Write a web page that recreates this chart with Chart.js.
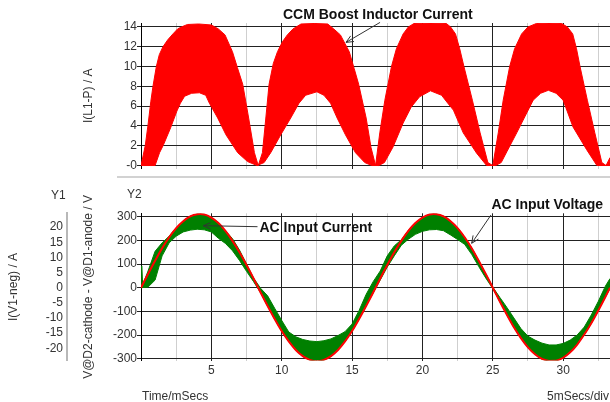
<!DOCTYPE html>
<html>
<head>
<meta charset="utf-8">
<script src="https://cdn.jsdelivr.net/npm/chart.js@4"></script>
<style>
  html, body { margin: 0; padding: 0; background: #fff; }
  #wrap { position: relative; width: 610px; height: 402px; overflow: hidden;
          font-family: "Liberation Sans", Arial, sans-serif; color: #333; }
  #topChart { position: absolute; left: 0; top: 0; }
  #bottomChart { position: absolute; left: 0; top: 178px; }
  #sep { position: absolute; left: 117px; top: 176px; width: 493px; height: 2px; background: #d2d2d2; }
  .lbl { position: absolute; font-size: 12px; line-height: 14px; white-space: nowrap; }
</style>
</head>
<body>
<div id="wrap">
  <canvas id="topChart" width="610" height="178"></canvas>
  <div id="sep"></div>
  <canvas id="bottomChart" width="610" height="224"></canvas>
  <div class="lbl" style="left:51px; top:188px;">Y1</div>
  <div class="lbl" style="left:127px; top:187px;">Y2</div>
  <div class="lbl" style="left:142px; top:389px;">Time/mSecs</div>
  <div class="lbl" style="right:1px; top:389px;">5mSecs/div</div>
</div>
<script>
// ---- time axis (ms) ----
const timeTicks = [0, 2.5, 5, 7.5, 10, 12.5, 15, 17.5, 20, 22.5, 25, 27.5, 30, 32.5];
const timeTickLabels = ['', '', '5', '', '10', '', '15', '', '20', '', '25', '', '30', ''];

// ---- boost inductor current, I(L1-P) in A: ripple envelope [ms, A] ----
const inductorCurrentMax = [
  [0,0],[0.3,2],[0.49,4],[0.7,6.5],[0.85,8],[1.09,10],[1.3,11.2],[1.56,12],[1.9,12.7],[2.27,13.3],[2.6,13.8],[2.87,14.0],[3.3,14.25],[4.1,14.3],[5.0,14.2],[5.5,13.8],[5.97,13.2],[6.5,11.5],[6.85,9.9],[7.23,8.2],[7.65,4.8],[8.06,1.3],[8.33,0],
  [8.63,1.3],[8.85,4.5],[9.1,8.2],[9.4,10.3],[9.7,11.5],[10.05,12.5],[10.4,13.2],[10.8,13.8],[11.37,14.3],[12.3,14.35],[13.27,14.3],[13.7,13.8],[14.17,13.2],[14.8,11.5],[15.15,9.8],[15.47,8.2],[16.0,4.8],[16.35,1.8],[16.67,0],
  [16.97,3.3],[17.33,6.6],[17.8,10],[18.15,11.8],[18.63,13.3],[19.0,14.0],[19.4,14.35],[20.6,14.4],[21.7,14.35],[22.0,14.0],[22.35,13.3],[22.65,11.8],[22.95,10],[23.55,6.6],[24.1,3.3],[24.65,0.3],[25.0,0],
  [25.39,3.3],[25.74,6.6],[26.2,10],[26.55,11.8],[27.05,13.3],[27.5,14.0],[28.1,14.35],[29.0,14.4],[29.9,14.35],[30.3,14.0],[30.68,13.3],[30.95,11.8],[31.2,10],[31.72,6.6],[32.25,3.3],[32.75,0.3],[33.05,0],[33.33,0.8]
];
const inductorCurrentMin = [
  [0,0],[1.0,0],[1.32,1.3],[1.6,2.1],[2.1,3.8],[2.55,5.5],[2.8,6.3],[3.1,7.0],[3.6,7.3],[4.15,7.35],[4.6,7.1],[4.86,6.3],[5.45,4.8],[6.04,3.1],[6.87,1.3],[7.57,0.4],[8.25,0],
  [8.75,0.3],[9.22,1.3],[9.93,3.1],[10.64,4.8],[11.23,6.3],[11.7,7.1],[12.5,7.45],[13.0,7.1],[13.47,6.3],[13.94,4.8],[14.53,3.1],[15.24,1.3],[15.9,0.3],[16.4,0],[16.9,0],
  [17.3,0.3],[17.92,1.9],[18.63,4.3],[19.2,5.9],[19.8,6.95],[20.57,7.55],[21.36,7.1],[21.8,6.3],[22.2,5.6],[22.9,3.3],[23.85,1.25],[24.56,0],[25.2,0],
  [25.6,0.3],[26.0,1.4],[26.7,3.3],[27.87,6.6],[28.4,7.3],[28.95,7.6],[29.5,7.3],[30.0,6.6],[30.7,3.9],[31.67,1.6],[32.4,0],[33.33,0]
];
const inductorTicks = [0, 2, 4, 6, 8, 10, 12, 14];
const inductorTickLabels = ['-0', '2', '4', '6', '8', '10', '12', '14'];

// ---- AC input current, I(V1-neg) in A: ripple envelope [ms, A] ----
const acCurrentMax = [
  [0,0],[0.05,7.2],[0.12,1.0],[0.5,5.5],[1.0,12.0],[1.5,14.8],[2.0,17.0],[2.5,19.8],[3.0,22.0],[3.5,23.6],[4.0,24.3],[4.5,24.2],[5.0,23.2],[5.5,21.4],[6.0,18.8],[6.5,16.2],[7.0,12.4],[7.5,7.8],[8.0,3.2],
  [8.5,-0.2],[9.0,-2.7],[9.5,-6.8],[10.0,-10.8],[10.5,-14.6],[11.0,-16.2],[11.5,-17.1],[12.0,-17.6],[12.5,-17.8],[13.0,-17.5],[13.5,-16.9],[14.0,-15.8],[14.5,-14.5],[15.0,-12.0],[15.5,-7.5],[16.0,-2.2],[16.5,2.0],
  [17.0,5.5],[17.5,10.5],[18.0,13.8],[18.5,15.8],[19.0,18.9],[19.5,21.4],[20.0,23.2],[20.5,24.2],[21.0,24.3],[21.5,23.6],[22.0,22.0],[22.5,19.8],[23.0,16.7],[23.5,13.2],[24.0,9.0],[24.5,4.6],[25.0,0.2],
  [25.5,-3.2],[26.0,-6.5],[26.5,-10.0],[27.0,-13.5],[27.5,-16.0],[28.0,-17.3],[28.5,-18.3],[29.0,-18.9],[29.5,-18.9],[30.0,-18.4],[30.5,-17.3],[31.0,-15.6],[31.5,-13.0],[32.0,-9.0],[32.5,-4.5],[33.0,0.5],[33.33,3.0]
];
const acCurrentMin = [
  [0,0],[0.5,0.2],[1.0,2.5],[1.5,10.5],[2.0,14.8],[2.5,17.0],[3.0,18.4],[3.5,19.0],[4.0,19.3],[4.5,19.1],[5.0,18.4],[5.5,16.3],[6.0,14.6],[6.5,12.2],[7.0,9.0],[7.5,5.4],[8.0,2.0],
  [8.5,-1.7],[9.0,-6.1],[9.5,-10.4],[10.0,-14.4],[10.5,-17.8],[11.0,-20.6],[11.5,-22.7],[12.0,-23.9],[12.5,-24.3],[13.0,-23.9],[13.5,-22.7],[14.0,-20.6],[14.5,-17.8],[15.0,-14.4],[15.5,-10.4],[16.0,-6.0],[16.5,-1.7],
  [17.0,2.5],[17.5,6.8],[18.0,10.5],[18.5,14.0],[19.0,16.0],[19.5,17.6],[20.0,18.6],[20.5,19.1],[21.0,19.2],[21.5,18.8],[22.0,17.4],[22.5,15.9],[23.0,14.3],[23.5,11.0],[24.0,7.0],[24.5,3.2],[25.0,-0.3],
  [25.5,-4.6],[26.0,-9.0],[26.5,-13.1],[27.0,-16.7],[27.5,-19.8],[28.0,-22.0],[28.5,-23.6],[29.0,-24.3],[29.5,-24.2],[30.0,-23.2],[30.5,-21.4],[31.0,-18.8],[31.5,-15.6],[32.0,-11.8],[32.5,-7.6],[33.0,-3.1],[33.33,-0.3]
];
const currentTicks = [-20, -15, -10, -5, 0, 5, 10, 15, 20];
const currentTickLabels = ['-20', '-15', '-10', '-5', '0', '5', '10', '15', '20'];

// ---- AC input voltage, V@D2-cathode - V@D1-anode in V [ms, V] ----
const acInputVoltage = [
  [0,0],[0.5,58],[1,114],[1.5,167],[2,213],[2.5,252],[3,281],[3.5,301],[4,310],[4.5,309],[5,296],[5.5,273],[6,240],[6.5,198],[7,150],[7.5,96],[8,39],
  [8.5,-20],[9,-77],[9.5,-132],[10,-183],[10.5,-227],[11,-263],[11.5,-289],[12,-305],[12.5,-311],[13,-305],[13.5,-289],[14,-263],[14.5,-227],[15,-183],[15.5,-132],[16,-77],[16.5,-20],
  [17,39],[17.5,96],[18,150],[18.5,198],[19,240],[19.5,273],[20,296],[20.5,309],[21,310],[21.5,301],[22,281],[22.5,252],[23,213],[23.5,167],[24,114],[24.5,58],[25,0],
  [25.5,-58],[26,-114],[26.5,-167],[27,-213],[27.5,-252],[28,-281],[28.5,-301],[29,-310],[29.5,-309],[30,-296],[30.5,-273],[31,-240],[31.5,-198],[32,-150],[32.5,-96],[33,-39],[33.33,0]
];
const voltageTicks = [-300, -200, -100, 0, 100, 200, 300];
const voltageTickLabels = ['-300', '-200', '-100', '0', '100', '200', '300'];

// ---------------------------------------------------------------
const FONT = '"Liberation Sans", Arial, sans-serif';
Chart.defaults.font.family = FONT;
Chart.defaults.font.size = 12;
Chart.defaults.color = '#333';

const RED = '#ff0000';
const GREEN = '#008000';
const GRID_MAJOR = '#222222';
const GRID_MINOR = '#cfcfcf';

const toXY = pairs => pairs.map(([x, y]) => ({ x, y }));
const fixedTicks = values => scale => { scale.ticks = values.map(v => ({ value: v })); };

function timeScale(showLabels) {
  return {
    type: 'linear', min: 0, max: 33.33,
    afterBuildTicks: fixedTicks(timeTicks),
    afterFit: s => { s.height = showLabels ? 20 : 0; },
    grid: {
      drawTicks: false, lineWidth: 1,
      color: c => (c.index % 2 === 0 ? GRID_MAJOR : GRID_MINOR)
    },
    border: { display: false },
    ticks: {
      display: showLabels, autoSkip: false, maxRotation: 0, padding: 3,
      callback: (v, i) => timeTickLabels[i]
    }
  };
}

// Text callouts with an open arrowhead, anchored in data units.
const callouts = {
  id: 'callouts',
  afterDraw(chart, args, opts) {
    const { ctx } = chart;
    const xs = chart.scales.x, ys = chart.scales[opts.yScale];
    const px = p => [xs.getPixelForValue(p[0]), ys.getPixelForValue(p[1])];
    ctx.save();
    ctx.strokeStyle = '#333';
    ctx.fillStyle = '#111';
    ctx.lineWidth = 1;
    ctx.font = 'bold 14px ' + FONT;
    ctx.textBaseline = 'alphabetic';
    ctx.textAlign = 'left';
    for (const item of opts.items) {
      const [tx, ty] = px(item.at);
      const [ax, ay] = px(item.from);
      const [hx, hy] = px(item.to);
      ctx.beginPath();
      ctx.moveTo(ax, ay);
      ctx.lineTo(hx, hy);
      const ang = Math.atan2(ay - hy, ax - hx);
      const len = 8, spread = 0.42;
      ctx.moveTo(hx + len * Math.cos(ang + spread), hy + len * Math.sin(ang + spread));
      ctx.lineTo(hx, hy);
      ctx.lineTo(hx + len * Math.cos(ang - spread), hy + len * Math.sin(ang - spread));
      ctx.stroke();
      ctx.fillText(item.text, tx, ty);
    }
    ctx.restore();
  }
};

// ---- upper panel: inductor current ----
new Chart(document.getElementById('topChart'), {
  type: 'line',
  data: {
    datasets: [
      { data: toXY(inductorCurrentMax), borderColor: RED, backgroundColor: RED, borderWidth: 1,
        pointRadius: 0, fill: '+1', tension: 0 },
      { data: toXY(inductorCurrentMin), borderColor: RED, borderWidth: 1,
        pointRadius: 0, fill: false, tension: 0 }
    ]
  },
  options: {
    responsive: false, animation: false, parsing: false,
    layout: { padding: { left: 67, top: 23, right: 0, bottom: 9.5 } },
    plugins: {
      legend: { display: false }, tooltip: { enabled: false },
      callouts: { yScale: 'y', items: [
        { text: 'CCM Boost Inductor Current', at: [10.09, 14.8], from: [16.99, 14.46], to: [14.57, 12.44] }
      ] }
    },
    scales: {
      x: timeScale(false),
      y: {
        type: 'linear', min: -0.3, max: 14.4,
        afterBuildTicks: fixedTicks(inductorTicks),
        afterFit: s => { s.width = 74; },
        grid: { color: GRID_MAJOR, lineWidth: 1, tickLength: 4 },
        border: { display: true, color: '#000', width: 1 },
        ticks: { padding: 0, callback: (v, i) => inductorTickLabels[i] },
        title: { display: true, text: 'I(L1-P) / A', padding: { top: 14, bottom: 0 } }
      }
    }
  },
  plugins: [callouts]
});

// ---- lower panel: AC input voltage and current ----
new Chart(document.getElementById('bottomChart'), {
  type: 'line',
  data: {
    datasets: [
      { data: toXY(acInputVoltage), yAxisID: 'y2', borderColor: RED, borderWidth: 2,
        pointRadius: 0, fill: false, tension: 0.3 },
      { data: toXY(acCurrentMax), yAxisID: 'y1', borderColor: GREEN, backgroundColor: GREEN, borderWidth: 1,
        pointRadius: 0, fill: '+1', tension: 0 },
      { data: toXY(acCurrentMin), yAxisID: 'y1', borderColor: GREEN, borderWidth: 1,
        pointRadius: 0, fill: false, tension: 0 }
    ]
  },
  options: {
    responsive: false, animation: false, parsing: false,
    layout: { padding: { left: 0, top: 35.3, right: 0, bottom: 21.4 } },
    plugins: {
      legend: { display: false }, tooltip: { enabled: false },
      callouts: { yScale: 'y2', items: [
        { text: 'AC Input Current', at: [8.42, 236.6], from: [8.28, 257.7], to: [4.43, 262] },
        { text: 'AC Input Voltage', at: [24.9, 331], from: [24.87, 307], to: [23.5, 187.6] }
      ] }
    },
    scales: {
      x: timeScale(true),
      y1: {
        type: 'linear', position: 'left', weight: 1, min: -24.06, max: 24.55,
        afterBuildTicks: fixedTicks(currentTicks),
        afterFit: s => { s.width = 67; },
        grid: { display: false, drawTicks: false },
        border: { display: true, color: '#b8b8b8', width: 2 },
        ticks: { padding: 4, callback: (v, i) => currentTickLabels[i] },
        title: { display: true, text: 'I(V1-neg) / A', padding: { top: 6, bottom: 0 } }
      },
      y2: {
        type: 'linear', position: 'left', weight: 0, min: -308, max: 314.3,
        afterBuildTicks: fixedTicks(voltageTicks),
        afterFit: s => { s.width = 74; },
        grid: { color: GRID_MAJOR, lineWidth: 1, tickLength: 4 },
        border: { display: true, color: '#000', width: 1 },
        ticks: { padding: 0, callback: (v, i) => voltageTickLabels[i] },
        title: { display: true, text: 'V@D2-cathode - V@D1-anode / V', padding: { top: 14, bottom: 0 } }
      }
    }
  },
  plugins: [callouts]
});
</script>
</body>
</html>
